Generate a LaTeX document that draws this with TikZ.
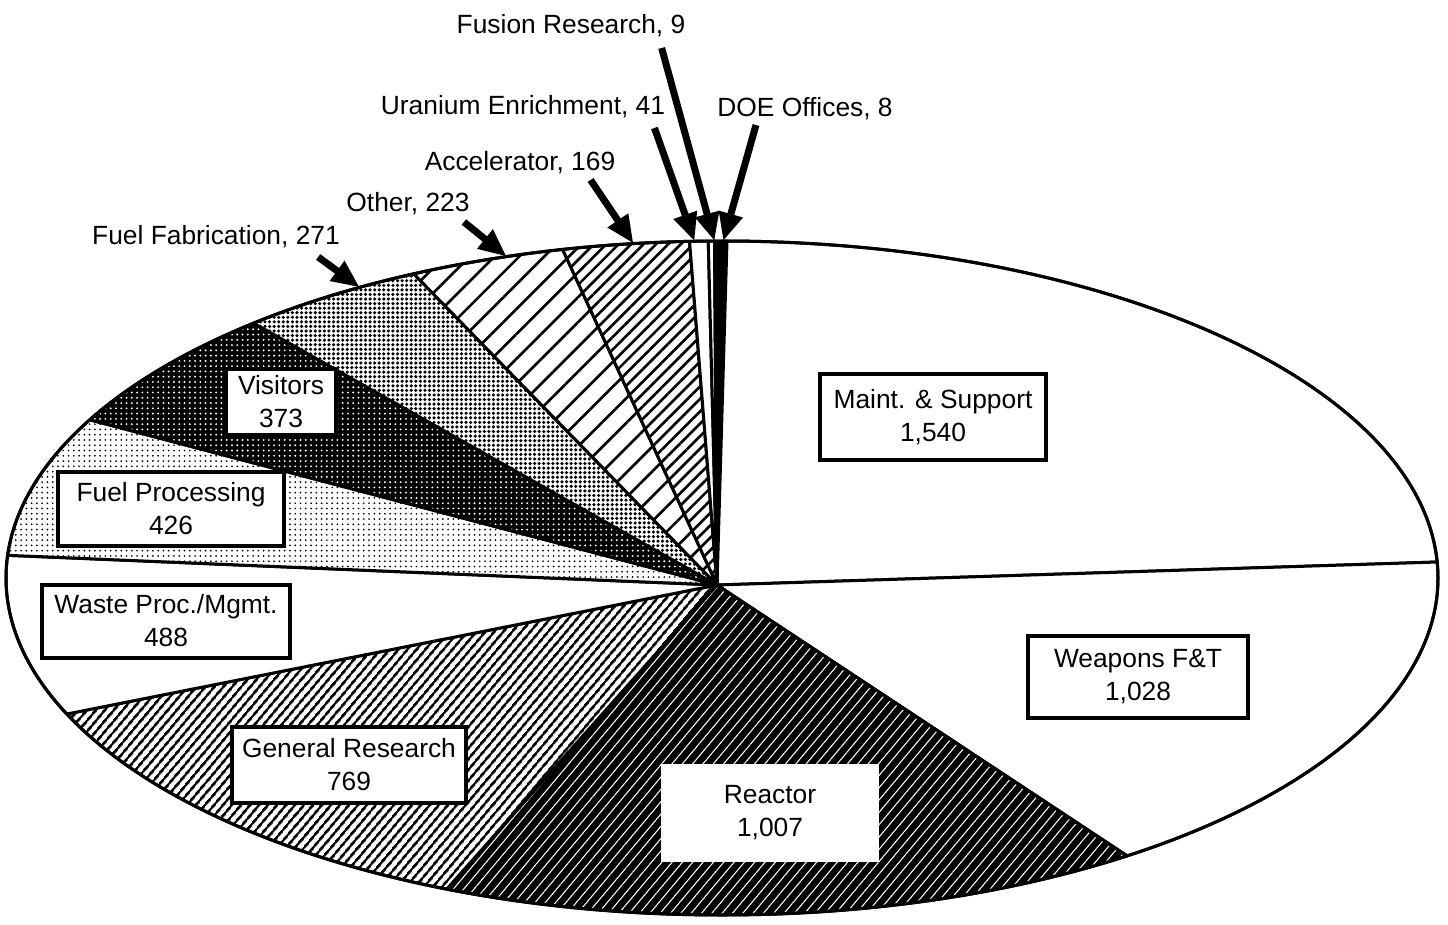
\documentclass[tikz,border=0pt]{standalone}
\usepackage{fontspec}
\setmainfont{Liberation Sans}
\usepackage{tikz}
\usetikzlibrary{arrows.meta, calc, patterns.meta}
\tikzset{
  wedge/.style    = {draw, line width=0.6mm, line join=round},
  wedgeW/.style   = {wedge, fill=white},
  wedgeK/.style   = {wedge, fill=black},
  wedgeRx/.style  = {wedge, preaction={fill=black},
                     pattern={Lines[angle=50,distance=4.5pt,line width=0.6pt]}, pattern color=white},
  wedgeGR/.style  = {wedge, preaction={fill=white},
                     pattern={Lines[angle=50,distance=4pt,line width=1.7pt]}, pattern color=black},
  wedgeFP/.style  = {wedge, preaction={fill=white},
                     pattern={Dots[distance=3pt,radius=0.55pt]}, pattern color=black},
  wedgeV/.style   = {wedge, preaction={fill=black},
                     pattern={Dots[distance=3pt,radius=0.6pt]}, pattern color=white},
  wedgeFF/.style  = {wedge, preaction={fill=white},
                     pattern={Dots[distance=2.6pt,radius=1pt]}, pattern color=black},
  wedgeOt/.style  = {wedge, preaction={fill=white},
                     pattern={Lines[angle=45,distance=10pt,line width=1.5pt]}, pattern color=black},
  wedgeAc/.style  = {wedge, preaction={fill=white},
                     pattern={Lines[angle=45,distance=5pt,line width=1.5pt]}, pattern color=black},
  rim/.style      = {line width=0.6mm},
  tag/.style      = {font=\fontsize{15}{18.8}\selectfont, inner sep=0pt},
  box/.style      = {rectangle, draw, line width=0.8mm, fill=white, align=center,
                     font=\fontsize{15}{18.8}\selectfont, inner sep=0pt},
  callout/.style  = {line width=1.4mm, -{Triangle[length=5.6mm,width=4.6mm]}},
}

\begin{document}
\begin{tikzpicture}[x=0.2mm, y=-0.2mm]
  \useasboundingbox (0,0) rectangle (1448,925);

  % slices, clockwise from the top
  \begin{scope}[shift={(722,578)}]
    \coordinate (hub) at (-5,7);
    \path[wedgeW]  (hub) -- (-90:716 and 337)    arc[start angle=-90,    end angle=-2.72,  x radius=716, y radius=337] -- cycle;
    \path[wedgeW]  (hub) -- (-2.72:716 and 337)  arc[start angle=-2.72,  end angle=55.54,  x radius=716, y radius=337] -- cycle;
    \path[wedgeRx] (hub) -- (55.54:716 and 337)  arc[start angle=55.54,  end angle=112.61, x radius=716, y radius=337] -- cycle;
    \path[wedgeGR] (hub) -- (112.61:716 and 337) arc[start angle=112.61, end angle=156.20, x radius=716, y radius=337] -- cycle;
    \path[wedgeW]  (hub) -- (156.20:716 and 337) arc[start angle=156.20, end angle=183.86, x radius=716, y radius=337] -- cycle;
    \path[wedgeFP] (hub) -- (183.86:716 and 337) arc[start angle=183.86, end angle=208.00, x radius=716, y radius=337] -- cycle;
    \path[wedgeV]  (hub) -- (208.00:716 and 337) arc[start angle=208.00, end angle=229.14, x radius=716, y radius=337] -- cycle;
    \path[wedgeFF] (hub) -- (229.14:716 and 337) arc[start angle=229.14, end angle=244.50, x radius=716, y radius=337] -- cycle;
    \path[wedgeOt] (hub) -- (244.50:716 and 337) arc[start angle=244.50, end angle=257.14, x radius=716, y radius=337] -- cycle;
    \path[wedgeAc] (hub) -- (257.14:716 and 337) arc[start angle=257.14, end angle=267.40, x radius=716, y radius=337] -- cycle;
    \path[wedgeW]  (hub) -- (267.40:716 and 337) arc[start angle=267.40, end angle=268.90, x radius=716, y radius=337] -- cycle;
    \path[wedgeW]  (hub) -- (268.90:716 and 337) arc[start angle=268.90, end angle=269.40, x radius=716, y radius=337] -- cycle;
    \path[wedgeK]  (hub) -- (269.40:716 and 337) arc[start angle=269.40, end angle=270.40, x radius=716, y radius=337] -- cycle;
    \draw[rim] (0,0) ellipse[x radius=716, y radius=337];

    % arrow tips on the rim
    \coordinate (tipFus) at (269.4:716 and 337);
    \coordinate (tipUra) at (267.8:716 and 337);
    \coordinate (tipDoe) at (270.1:716 and 337);
    \coordinate (tipAcc) at (262.9:716 and 337);
    \coordinate (tipOth) at (252.5:716 and 337);
    \coordinate (tipFab) at (239.6:716 and 337);
  \end{scope}

  % boxed labels
  \node[box, minimum width=45.2mm, minimum height=17.2mm] (maint) at (933,417) {Maint. \& Support\\1,540};
  \node[box, minimum width=44mm,   minimum height=16.4mm] (weap)  at (1138,677) {Weapons F\&T\\1,028};
  \node[box, draw=none, minimum width=43.6mm, minimum height=19.6mm] (reac) at (770,813) {Reactor\\1,007};
  \node[box, minimum width=46.8mm, minimum height=15.2mm] (gen)   at (349,765) {General Research\\769};
  \node[box, minimum width=49.6mm, minimum height=14.6mm] (waste) at (166,621) {Waste Proc./Mgmt.\\488};
  \node[box, minimum width=45.2mm, minimum height=14.8mm] (fproc) at (171,509) {Fuel Processing\\426};
  \node[box, minimum width=22mm,   minimum height=13.2mm] (visit) at (281,402) {Visitors\\373};

  % outside labels
  \node[tag, anchor=base] (fus) at (571,34)  {Fusion Research, 9};
  \node[tag, anchor=base] (ura) at (523,114) {Uranium Enrichment, 41};
  \node[tag, anchor=base] (doe) at (805,117) {DOE Offices, 8};
  \node[tag, anchor=base] (acc) at (520,170) {Accelerator, 169};
  \node[tag, anchor=base] (oth) at (408,211) {Other, 223};
  \node[tag, anchor=base] (fab) at (216,244) {Fuel Fabrication, 271};

  \draw[callout] ($(fus.base east)+(-24,14)$) -- (tipFus);
  \draw[callout] ($(ura.base east)+(-11,14)$) -- (tipUra);
  \draw[callout] ($(doe.base west)+(39,8)$)   -- (tipDoe);
  \draw[callout] ($(acc.base east)+(-25,10)$) -- (tipAcc);
  \draw[callout] ($(oth.base east)+(-6,11)$)  -- (tipOth);
  \draw[callout] ($(fab.base east)+(-22,13)$) -- (tipFab);

\end{tikzpicture}
\end{document}
